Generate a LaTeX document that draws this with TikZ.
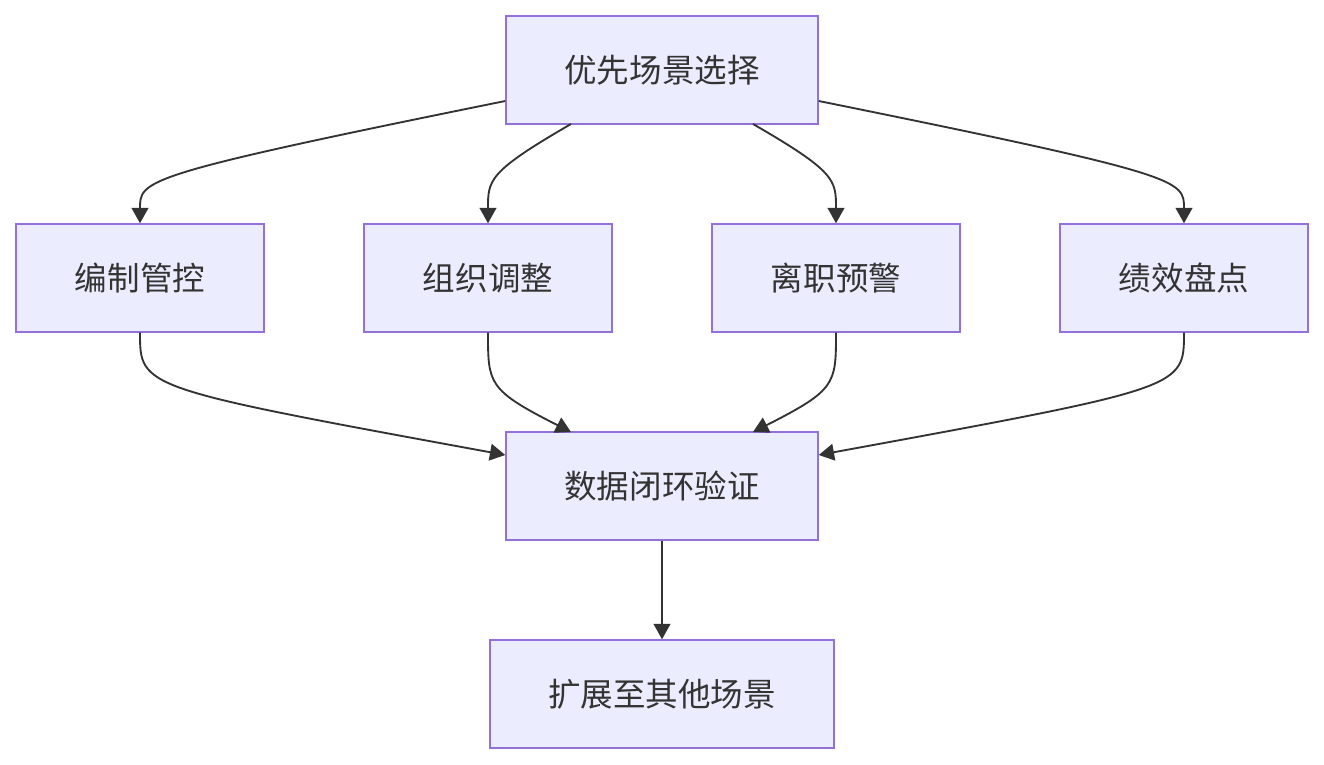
\documentclass[tikz,border=0pt]{standalone}
\usepackage{fontspec}
\setmainfont{Noto Sans CJK SC}
\usetikzlibrary{arrows.meta}
\definecolor{boxfill}{HTML}{ECECFF}
\definecolor{boxline}{HTML}{9370DB}
\definecolor{ink}{HTML}{333333}
\begin{document}
\begin{tikzpicture}[x=0.75pt,y=-0.75pt,
  box/.style={draw=boxline,fill=boxfill,line width=1.1pt,minimum height=81pt,text=ink,font=\fontsize{24.4}{29}\selectfont,inner sep=0pt},
  w1/.style={minimum width=234pt},
  w2/.style={minimum width=186pt},
  w3/.style={minimum width=258pt},
  link/.style={draw=ink,line width=1.4pt,-{Triangle[length=11.5pt,width=12.5pt]}}]
\useasboundingbox (0,0) rectangle (1324,764);
\node[box,w1] (top) at (662,70) {优先场景选择};
\node[box,w2] (a) at (140,278) {编制管控};
\node[box,w2] (b) at (488,278) {组织调整};
\node[box,w2] (c) at (836,278) {离职预警};
\node[box,w2] (d) at (1184,278) {绩效盘点};
\node[box,w1] (mid) at (662,486) {数据闭环验证};
\node[box,w3] (bot) at (662,694) {扩展至其他场景};
\draw[link] (top.west |- 0,101) .. controls (140,175) and (140,180) .. (a.north);
\draw[link] (571,124) .. controls (488,172) and (488,180) .. (b.north);
\draw[link] (753,124) .. controls (836,172) and (836,180) .. (c.north);
\draw[link] (top.east |- 0,101) .. controls (1184,175) and (1184,180) .. (d.north);
\draw[link] (a.south) .. controls (140,388) and (140,388) .. (mid.west |- 0,455);
\draw[link] (b.south) .. controls (488,384) and (488,390) .. (571,432);
\draw[link] (c.south) .. controls (836,384) and (836,390) .. (753,432);
\draw[link] (d.south) .. controls (1184,388) and (1184,388) .. (mid.east |- 0,455);
\draw[link] (mid.south) -- (bot.north);
\end{tikzpicture}
\end{document}
